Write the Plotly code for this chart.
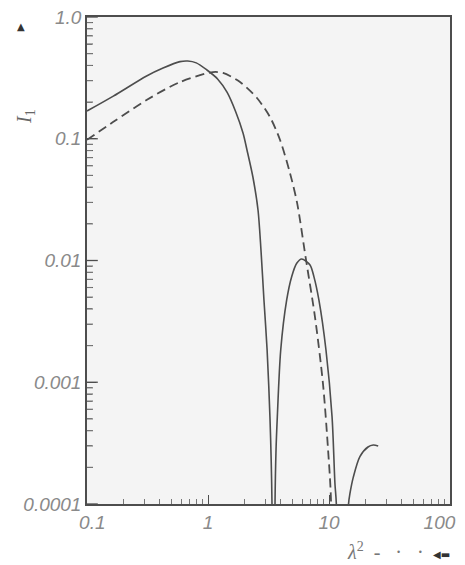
import math
import plotly.graph_objects as go

# ---- data (log-log) ----
# solid curve, three lobes
solid1_x = [0.1, 0.165, 0.311, 0.425, 0.587, 0.68, 0.8, 0.98, 1.2, 1.44, 1.7, 1.95, 2.1, 2.35, 2.59, 2.74, 2.9, 3.08, 3.25, 3.38, 3.42]
solid1_y = [0.169, 0.224, 0.328, 0.381, 0.43, 0.435, 0.42, 0.367, 0.31, 0.24, 0.165, 0.111, 0.0809, 0.0485, 0.026, 0.0122, 0.00474, 0.00184, 0.00052, 0.0001, 1e-7]
solid2_x = [3.52, 3.58, 3.65, 3.74, 3.99, 4.47, 4.92, 5.41, 5.94, 6.97, 7.52, 8.25, 9.44, 10.6, 11.2, 11.5, 11.6]
solid2_y = [1e-7, 0.0001, 0.00028, 0.00052, 0.00184, 0.00474, 0.0074, 0.0095, 0.0103, 0.0092, 0.0073, 0.00474, 0.00184, 0.00052, 0.000146, 0.0001, 1e-7]
solid3_x = [14.3, 14.5, 14.9, 15.9, 18.0, 21.0, 23.2, 25.5]
solid3_y = [1e-7, 0.0001, 0.000122, 0.000167, 0.000245, 0.000294, 0.000305, 0.0003]
# dashed curve
dashed_x = [0.1, 0.164, 0.313, 0.587, 1.1, 1.33, 1.84, 2.54, 3.25, 3.94, 4.76, 5.45, 6.46, 7.64, 8.91, 9.82, 10.4, 10.5]
dashed_y = [0.098, 0.137, 0.209, 0.292, 0.353, 0.347, 0.292, 0.216, 0.151, 0.0977, 0.0523, 0.0297, 0.0101, 0.0035, 0.00098, 0.00028, 0.000103, 1e-7]

x_tickvals = [0.1, 1, 10, 100]
x_ticktext = ["&nbsp;&nbsp;0.1", "1", "10", "100&nbsp;&nbsp;&nbsp;&nbsp;"]
y_tickvals = [1, 0.1, 0.01, 0.001, 0.0001]
y_ticktext = ["1.0", "0.1", "0.01", "0.001", "0.0001"]

# minor tick positions (2..9 within each decade)
x_minor = [m * 10.0 ** k for k in range(-1, 2) for m in range(2, 10)]
y_minor = [m * 10.0 ** k for k in range(-4, 0) for m in range(2, 10)]

LINE = "#4d4d4d"
fig = go.Figure()
for xs, ys in [(solid1_x, solid1_y), (solid2_x, solid2_y), (solid3_x, solid3_y)]:
    fig.add_trace(go.Scatter(x=xs, y=ys, mode="lines",
                             line=dict(color=LINE, width=1.6, shape="spline", smoothing=0.8),
                             showlegend=False, hoverinfo="skip"))
fig.add_trace(go.Scatter(x=dashed_x, y=dashed_y, mode="lines",
                         line=dict(color=LINE, width=1.8, dash="9px,5px", shape="spline", smoothing=0.8),
                         showlegend=False, hoverinfo="skip"))

tickfont = dict(family="Liberation Sans, Arial, sans-serif", size=19, color="#8a8a8a", style="italic")

# the page body has an 8px margin: lay out in page pixels, then subtract it
OFF = 8
W, H = 465 - OFF, 565 - OFF
L, R, T, B = 87 - OFF, 450 - OFF, 17 - OFF, 504 - OFF
PX_PER_DECADE_X = (R - L) / 3.0

# y-axis ticks as short horizontal markers just inside the left edge (placed by the axes' scales)
for vals, length, width, color in [(y_tickvals, 9, 1.3, LINE), (y_minor, 5, 1.1, "#666")]:
    xpos = [0.1 * 10 ** ((length / 2.0) / PX_PER_DECADE_X)] * len(vals)
    fig.add_trace(go.Scatter(x=xpos, y=vals, mode="markers", cliponaxis=False,
                             marker=dict(symbol="line-ew", size=length, line=dict(color=color, width=width)),
                             showlegend=False, hoverinfo="skip"))

fig.update_layout(
    width=W, height=H,
    margin=dict(l=L, r=W - R, t=T, b=H - B, autoexpand=False),
    paper_bgcolor="white", plot_bgcolor="#f4f4f4",
    xaxis=dict(type="log", range=[-1, 2], tickmode="array", tickvals=x_tickvals, ticktext=x_ticktext,
               ticks="inside", ticklen=9, tickcolor=LINE, tickwidth=1.2,
               minor=dict(tickvals=x_minor, ticks="inside", ticklen=5, tickcolor="#777", tickwidth=1),
               showgrid=False, zeroline=False, showline=True, linecolor=LINE, linewidth=1.5,
               mirror=True, tickfont=tickfont, automargin=False, ticklabeloverflow="allow"),
    yaxis=dict(type="log", range=[-4, 0], tickmode="array", tickvals=y_tickvals, ticktext=y_ticktext,
               ticks="inside", ticklen=9, tickcolor=LINE, tickwidth=1.2,
               minor=dict(tickvals=y_minor, ticks="inside", ticklen=5, tickcolor="#777", tickwidth=1),
               showgrid=False, zeroline=False, showline=True, linecolor=LINE, linewidth=1.5,
               mirror=True, tickfont=tickfont, automargin=False, ticklabeloverflow="allow"),
)

def px2paper(px, py):
    # page pixel -> paper fraction
    return (px - OFF - L) / (R - L), (B - (py - OFF)) / (B - T)

# y title
xa, ya = px2paper(25, 117)
fig.add_annotation(xref="paper", yref="paper", x=xa, y=ya, xanchor="center", yanchor="middle",
                   text="<i>I</i><sub>1</sub>", textangle=-90, showarrow=False,
                   font=dict(family="Liberation Serif, serif", size=20, color="#666"))
# y arrow (pointing up)
xa, ya = px2paper(21, 26)
fig.add_annotation(xref="paper", yref="paper", x=xa, y=ya, xanchor="center", yanchor="middle",
                   text="▲", showarrow=False, font=dict(family="DejaVu Sans", size=10, color="#333"))
# x title
xa, ya = px2paper(345, 551)
fig.add_annotation(xref="paper", yref="paper", x=xa, y=ya, xanchor="left", yanchor="middle",
                   text="<i>λ</i><sup>2</sup>  -   ·   ·", showarrow=False,
                   font=dict(family="Liberation Serif, serif", size=20, color="#777"))
xa, ya = px2paper(441, 554)
fig.add_annotation(xref="paper", yref="paper", x=xa, y=ya, xanchor="center", yanchor="middle",
                   text="◀▬", showarrow=False, font=dict(family="DejaVu Sans", size=10, color="#333"))

fig.write_html("out.html")
